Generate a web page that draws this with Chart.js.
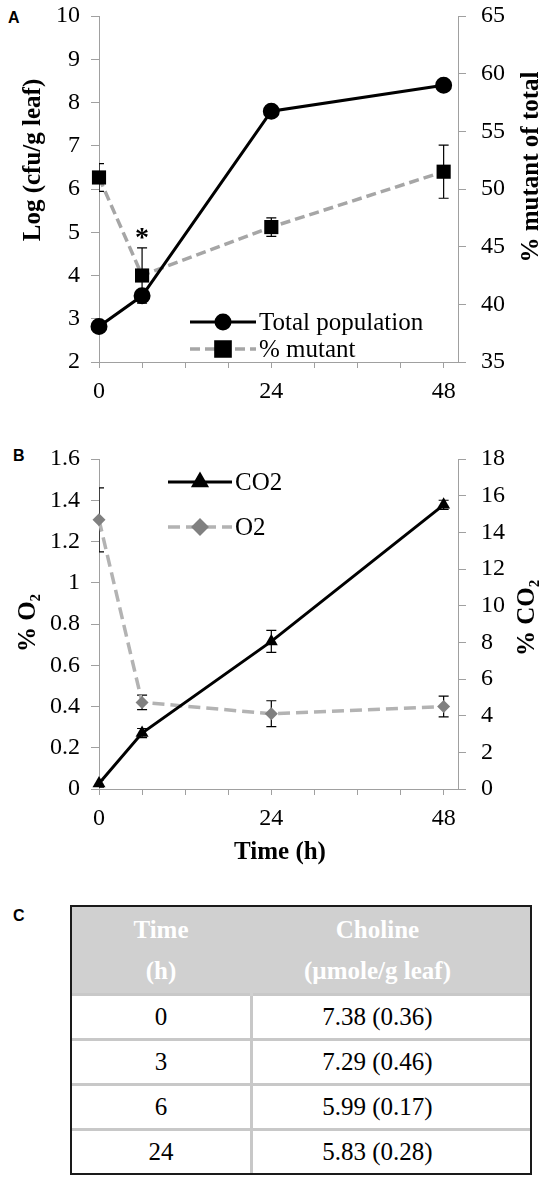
<!DOCTYPE html>
<html>
<head>
<meta charset="utf-8">
<script src="https://cdn.jsdelivr.net/npm/chart.js@4.4.1/dist/chart.umd.min.js"></script>
<style>
body { margin: 0; width: 550px; height: 1183px; background: #fff; position: relative; overflow: hidden; }
.lbl { position: absolute; font-family: "Liberation Sans", Arial, sans-serif; font-weight: bold; font-size: 16px; line-height: 16px; }
#cA { position: absolute; left: 0; top: 0; }
#cB { position: absolute; left: 0; top: 410px; }
#tableC { position: absolute; left: 70px; top: 905px; width: 462px; height: 270px; border: 2px solid #1a1a1a; box-sizing: border-box; }
#tableC table { width: 100%; height: 100%; border-collapse: collapse; font-family: "Liberation Serif", serif; font-size: 25px; }
#tableC th { background: #d0d0d0; color: #fff; font-weight: bold; line-height: 41px; height: 86px; padding: 0; }
#tableC td { border-top: 3px solid #c8c8c8; text-align: center; padding: 0; line-height: 28px; }
#tableC td + td, #tableC th + th { border-left: 3px solid #c8c8c8; }
#tableC th + th { border-left-color: #d0d0d0; }
</style>
</head>
<body>
<div class="lbl" style="left:8px; top:10px;">A</div>
<div class="lbl" style="left:13px; top:448px;">B</div>
<div class="lbl" style="left:13px; top:908px;">C</div>
<canvas id="cA" width="550" height="410"></canvas>
<canvas id="cB" width="550" height="470"></canvas>
<div id="tableC"><table id="tbl"></table></div>
<script>
// panel A - population and % mutant
const hoursA = [0, 6, 24, 48];
const totalPopulation = [2.82, 3.53, 7.8, 8.4];
const pctMutant = [51.0, 42.5, 46.7, 51.5];
const pctMutantErr = [1.2, 2.4, 0.8, 2.3];

// panel B - gases
const hoursB = [0, 6, 24, 48];
const co2 = [0.3, 3.05, 8.05, 15.5];
const co2Err = [0.2, 0.25, 0.6, 0.25];
const o2 = [1.305, 0.42, 0.365, 0.4];
const o2Err = [0.155, 0.035, 0.063, 0.05];

const xTickValues = [0, 6, 12, 18, 24, 30, 36, 42, 48];
const xTickLabels = ['0', '', '', '', '24', '', '', '', '48'];

// panel C - table
const tableHeader = [['Time', '(h)'], ['Choline', '(\u00b5mole/g leaf)']];
const tableTimes = ['0', '3', '6', '24'];
const tableCholine = ['7.38 (0.36)', '7.29 (0.46)', '5.99 (0.17)', '5.83 (0.28)'];

const SERIF = '"Liberation Serif", serif';
const AXIS = '#a0a0a0';
const DASH_GRAY = '#a6a6a6';
const tickFont = { family: SERIF, size: 24 };

function noPad(s) { s.paddingTop = 0; s.paddingBottom = 0; s.paddingLeft = 0; s.paddingRight = 0; }

function xAxis(h) {
  return {
    type: 'linear', min: 0, max: 50,
    afterBuildTicks: s => { s.ticks = xTickValues.map(v => ({ value: v })); },
    afterFit: s => { s.height = h; noPad(s); },
    grid: { drawOnChartArea: false, color: AXIS, tickLength: 6 },
    border: { color: AXIS },
    ticks: { font: tickFont, color: '#000', padding: 9, autoSkip: false, maxRotation: 0,
      callback: v => xTickLabels[xTickValues.indexOf(v)] }
  };
}

function yAxis(pos, min, max, step, w, pad) {
  return {
    type: 'linear', position: pos, min: min, max: max,
    afterFit: s => { s.width = w; noPad(s); },
    grid: { drawOnChartArea: false, color: AXIS, tickLength: 8 },
    border: { color: AXIS },
    ticks: { stepSize: step, font: tickFont, color: '#000', padding: pad,
      callback: v => String(+v.toFixed(1)) }
  };
}

// error bars, drawn under the markers
const errorBars = {
  id: 'errorBars',
  beforeDatasetsDraw(chart) {
    const ctx = chart.ctx, a = chart.chartArea;
    ctx.save();
    ctx.beginPath();
    ctx.rect(a.left, a.top, a.right - a.left, a.bottom - a.top);
    ctx.clip();
    ctx.strokeStyle = '#000';
    ctx.lineWidth = 1.2;
    chart.data.datasets.forEach(ds => {
      if (!ds.errors) return;
      const ys = chart.scales[ds.yAxisID], xs = chart.scales.x;
      ds.data.forEach((p, i) => {
        const x = xs.getPixelForValue(p.x);
        const y1 = ys.getPixelForValue(p.y + ds.errors[i]);
        const y2 = ys.getPixelForValue(p.y - ds.errors[i]);
        ctx.beginPath();
        ctx.moveTo(x, y1); ctx.lineTo(x, y2);
        ctx.moveTo(x - 5, y1); ctx.lineTo(x + 5, y1);
        ctx.moveTo(x - 5, y2); ctx.lineTo(x + 5, y2);
        ctx.stroke();
      });
    });
    ctx.restore();
  }
};

// legend in the plot + extra texts
const extras = {
  id: 'extras',
  afterDraw(chart, args, opts) {
    const ctx = chart.ctx;
    (opts.legend || []).forEach(it => {
      const ds = chart.data.datasets[it.index];
      ctx.save();
      ctx.strokeStyle = ds.borderColor;
      ctx.lineWidth = ds.borderWidth;
      ctx.setLineDash(ds.borderDash || []);
      ctx.beginPath();
      ctx.moveTo(it.x1, it.y); ctx.lineTo(it.x2, it.y);
      ctx.stroke();
      ctx.setLineDash([]);
      ctx.fillStyle = ds.pointBackgroundColor;
      ctx.strokeStyle = ds.pointBackgroundColor;
      Chart.helpers.drawPoint(ctx, { pointStyle: ds.pointStyle, radius: ds.pointRadius, borderWidth: 1, rotation: 0 }, (it.x1 + it.x2) / 2, it.y);
      ctx.fillStyle = '#000';
      ctx.font = '25px ' + SERIF;
      ctx.textAlign = 'left';
      ctx.textBaseline = 'middle';
      ctx.fillText(ds.label, it.x2 + 3, it.y + 1);
      ctx.restore();
    });
    (opts.texts || []).forEach(t => {
      ctx.save();
      ctx.font = t.font || 'bold 25px ' + SERIF;
      ctx.fillStyle = '#000';
      ctx.textAlign = 'center';
      ctx.textBaseline = 'middle';
      const p = typeof t.at === 'function' ? t.at(chart) : t.at;
      ctx.translate(p[0], p[1]);
      if (t.rot) ctx.rotate(t.rot);
      ctx.fillText(t.text, 0, 0);
      ctx.restore();
    });
  }
};

const pts = (xs, ys) => xs.map((x, i) => ({ x: x, y: ys[i] }));

new Chart(document.getElementById('cA'), {
  type: 'line',
  data: {
    datasets: [{
      label: 'Total population',
      data: pts(hoursA, totalPopulation),
      yAxisID: 'y',
      borderColor: '#000', borderWidth: 3,
      pointStyle: 'circle', pointRadius: 7,
      pointBackgroundColor: '#000', pointBorderColor: '#000',
      clip: false, order: 1
    }, {
      label: '% mutant',
      data: pts(hoursA, pctMutant),
      errors: pctMutantErr,
      yAxisID: 'y1',
      borderColor: DASH_GRAY, borderWidth: 3.5, borderDash: [10, 5],
      pointStyle: 'rect', pointRadius: 10,
      pointBackgroundColor: '#000', pointBorderColor: '#000', pointBorderWidth: 0,
      clip: false, order: 2
    }]
  },
  options: {
    responsive: false, animation: false,
    layout: { padding: { top: 16, left: 0, right: 0, bottom: 0 } },
    scales: {
      x: xAxis(48),
      y: yAxis('left', 2, 10, 1, 99, 11),
      y1: yAxis('right', 35, 65, 5, 92, 15)
    },
    plugins: {
      legend: { display: false }, tooltip: { enabled: false },
      extras: {
        legend: [{ index: 0, x1: 190, x2: 256, y: 322 }, { index: 1, x1: 190, x2: 256, y: 349 }],
        texts: [
          { text: 'Log (cfu/g leaf)', at: [34, 160], rot: -Math.PI / 2 },
          { text: '% mutant of total', at: [532, 167], rot: -Math.PI / 2 },
          { text: '*', font: 'bold 28px ' + SERIF,
            at: c => [c.scales.x.getPixelForValue(hoursA[1]), c.scales.y1.getPixelForValue(pctMutant[1] + pctMutantErr[1]) - 9] }
        ]
      }
    }
  },
  plugins: [errorBars, extras]
});

new Chart(document.getElementById('cB'), {
  type: 'line',
  data: {
    datasets: [{
      label: 'CO2',
      data: pts(hoursB, co2),
      errors: co2Err,
      yAxisID: 'y1',
      borderColor: '#000', borderWidth: 3,
      pointStyle: 'triangle', pointRadius: 7.5,
      pointBackgroundColor: '#000', pointBorderColor: '#000', pointBorderWidth: 0,
      clip: false
    }, {
      label: 'O2',
      data: pts(hoursB, o2),
      errors: o2Err,
      yAxisID: 'y',
      borderColor: '#b3b3b3', borderWidth: 3.5, borderDash: [12, 6],
      pointStyle: 'rectRot', pointRadius: 6.5,
      pointBackgroundColor: '#808080', pointBorderColor: '#808080', pointBorderWidth: 0,
      clip: false
    }]
  },
  options: {
    responsive: false, animation: false,
    layout: { padding: { top: 49, left: 0, right: 0, bottom: 0 } },
    scales: {
      x: xAxis(91),
      y: yAxis('left', 0, 1.6, 0.2, 99, 11),
      y1: yAxis('right', 0, 18, 2, 92, 15)
    },
    plugins: {
      legend: { display: false }, tooltip: { enabled: false },
      extras: {
        legend: [{ index: 0, x1: 168, x2: 232, y: 72 }, { index: 1, x1: 168, x2: 232, y: 117 }],
        texts: [
          { text: '% O\u2082', at: [29, 213], rot: -Math.PI / 2 },
          { text: '% CO\u2082', at: [528, 208], rot: -Math.PI / 2 },
          { text: 'Time (h)', font: 'bold 25px ' + SERIF, at: [280, 443] }
        ]
      }
    }
  },
  plugins: [errorBars, extras]
});

// table C
let html = '<tr>' + tableHeader.map((h, i) =>
  '<th style="width:' + (i === 0 ? '178px' : 'auto') + (i === 1 ? ';padding-right:28px' : '') + '">' + h.join('<br>') + '</th>').join('') + '</tr>';
tableTimes.forEach((t, i) => {
  html += '<tr><td>' + t + '</td><td style="padding-right:28px">' + tableCholine[i] + '</td></tr>';
});
document.getElementById('tbl').innerHTML = html;
</script>
</body>
</html>
